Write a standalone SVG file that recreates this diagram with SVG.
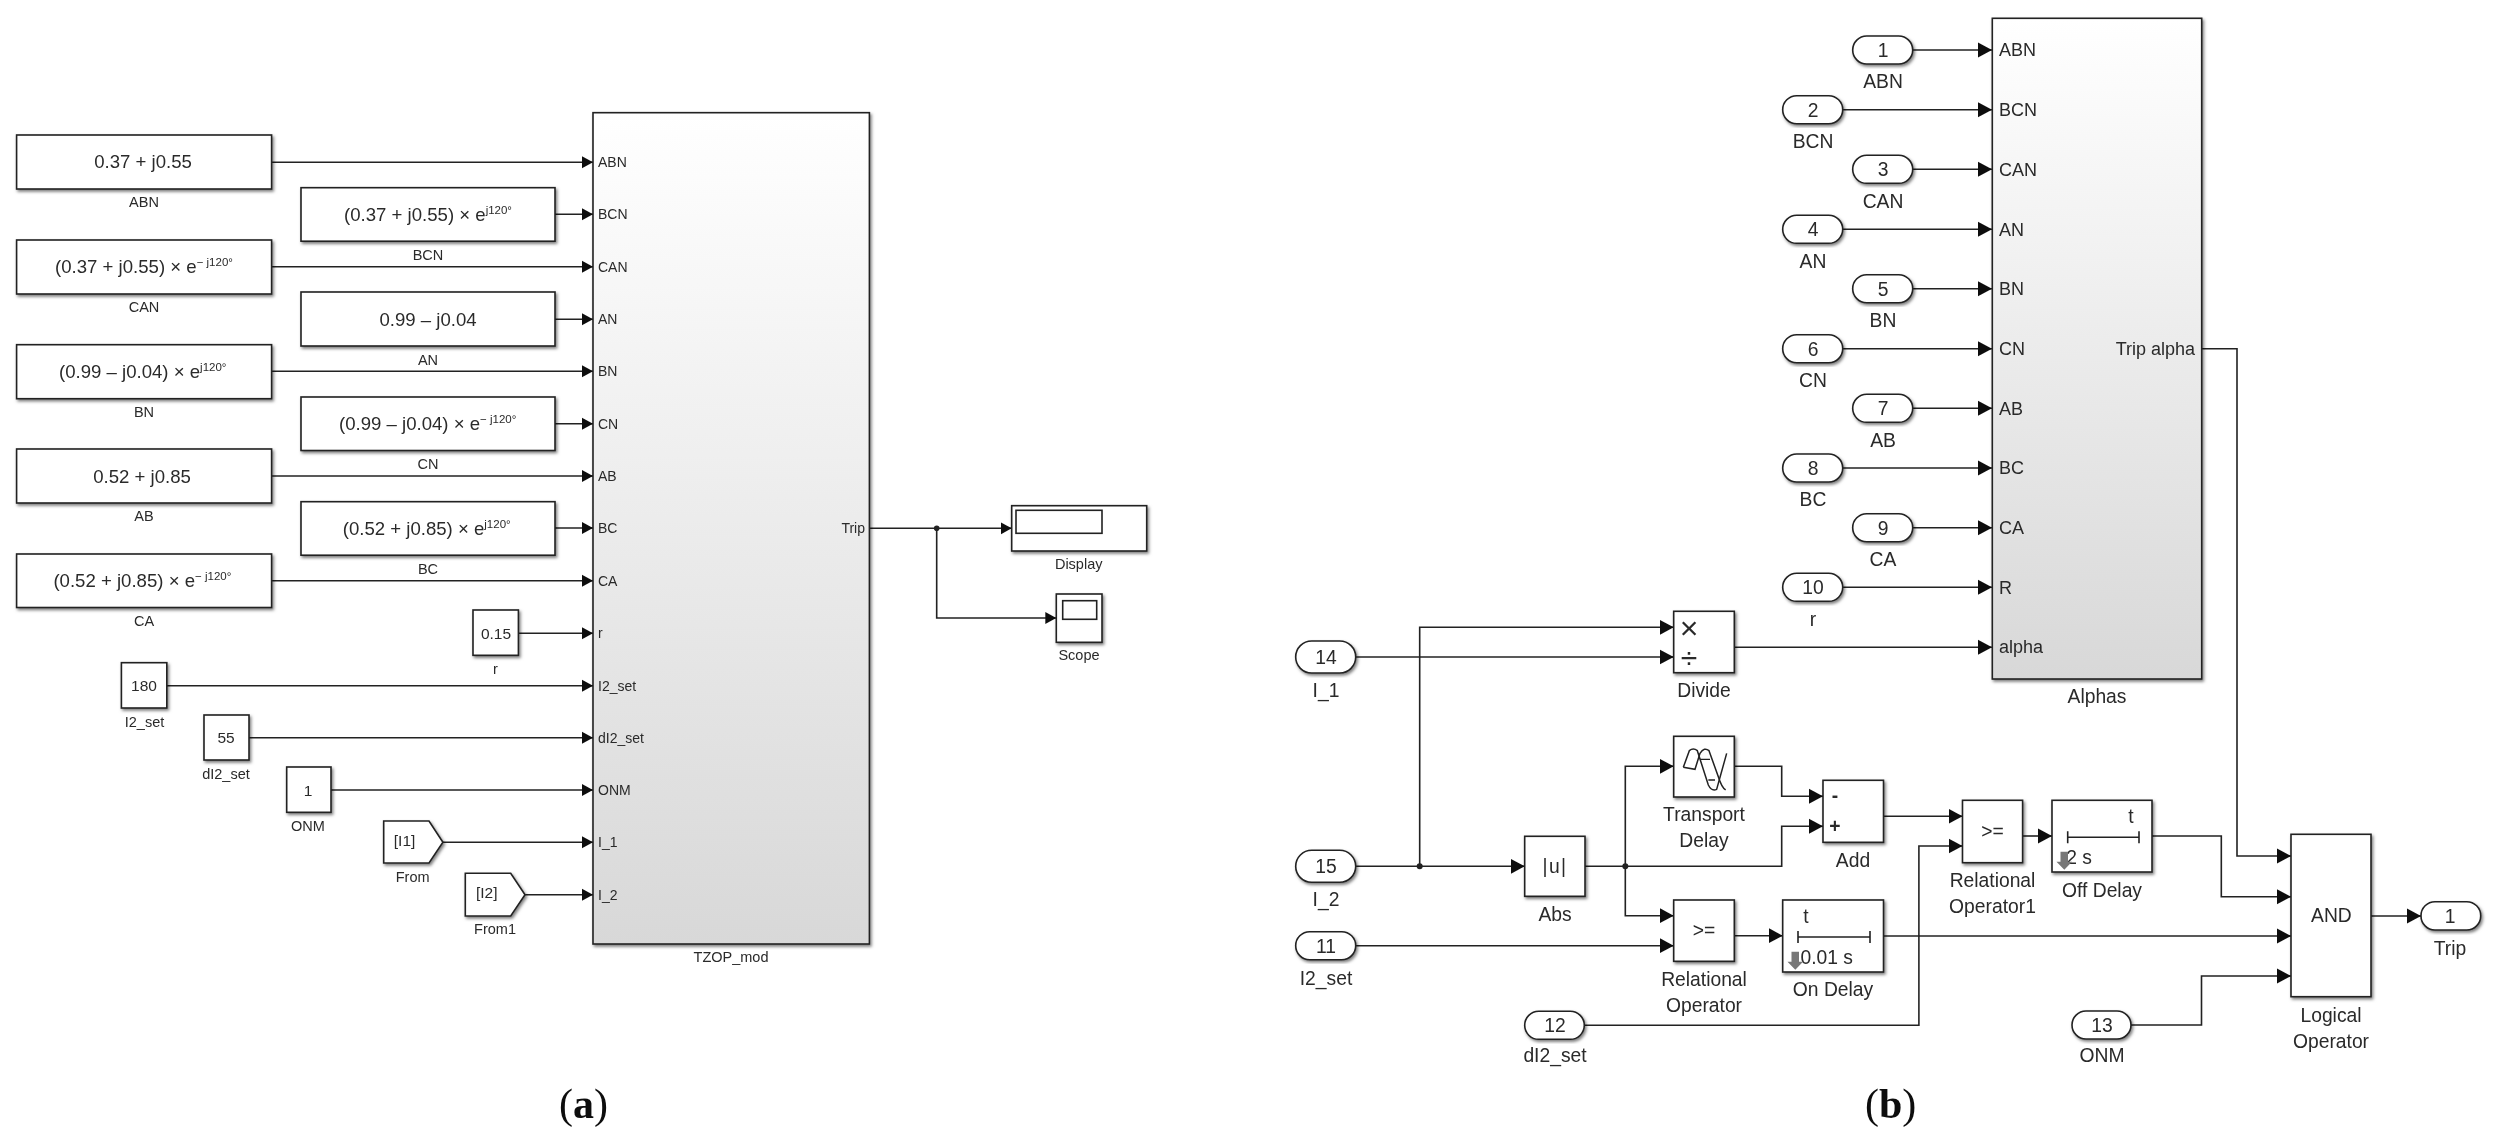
<svg xmlns="http://www.w3.org/2000/svg" width="2502" height="1144" viewBox="0 0 2502 1144">
<style>
text{font-family:"Liberation Sans",Arial,sans-serif;fill:#2a2a2a}
.b{fill:#fff;stroke:#222;stroke-width:1.6;filter:url(#sh)}
.big{stroke:#222;stroke-width:1.6;filter:url(#sh);fill:url(#gr)}
.w{fill:none;stroke:#222;stroke-width:1.6}
.a{marker-end:url(#ar)}
#connectors-b .a{marker-end:url(#ar2)}
.k{fill:#222;stroke:none}
.m{text-anchor:middle}
.v{font-size:18.6px}
.sup{font-size:11.5px}
.l{font-size:14.5px;text-anchor:middle}
.p{font-size:14px}
.c{font-size:15.5px;text-anchor:middle}
.n{font-size:19.3px;text-anchor:middle}
.q{font-size:18px}
.cap{font-family:"Liberation Serif","Times New Roman",serif;font-size:42px;fill:#111}
.ic{fill:none;stroke:#222;stroke-width:1.5}
</style>
<defs>
<linearGradient id="gr" x1="0" y1="0" x2="0" y2="1"><stop offset="0" stop-color="#fff"/><stop offset="1" stop-color="#d8d8d8"/></linearGradient>
<filter id="sh" x="-10%" y="-10%" width="125%" height="125%"><feDropShadow dx="1.5" dy="2" stdDeviation="1.4" flood-color="#000" flood-opacity="0.5"/></filter>
<filter id="soft" x="0" y="0" width="100%" height="100%" filterUnits="userSpaceOnUse"><feGaussianBlur stdDeviation="0.45"/></filter>
<marker id="ar" markerUnits="userSpaceOnUse" markerWidth="12" markerHeight="14" refX="11" refY="6.5" orient="auto"><path d="M0,0.5 L11,6.5 L0,12.5z" fill="#111"/></marker>
<marker id="ar2" markerUnits="userSpaceOnUse" markerWidth="15" markerHeight="16" refX="14" refY="8" orient="auto"><path d="M0,0.500 L14,8 L0,15.500z" fill="#111"/></marker>
</defs>
<rect width="2502" height="1144" fill="#fff"/>
<g filter="url(#soft)">
<g id="connectors-a" class="conn">
<path class="w a" d="M272,162.3H593"/><path class="w a" d="M555,214.3H593"/><path class="w a" d="M272,266.7H593"/><path class="w a" d="M555,319.3H593"/><path class="w a" d="M272,371.3H593"/><path class="w a" d="M555,423.7H593"/><path class="w a" d="M272,476H593"/><path class="w a" d="M555,528H593"/><path class="w a" d="M272,580.7H593"/>
<path class="w a" d="M518,633.3H593"/><path class="w a" d="M167,685.7H593"/><path class="w a" d="M249,737.7H593"/><path class="w a" d="M331,790H593"/><path class="w a" d="M443,842.3H593"/><path class="w a" d="M525,894.7H593"/>
<path class="w a" d="M870,528.3H1011.7"/><path class="w a" d="M936.7,528.3V618H1056.3"/><circle class="k" cx="936.7" cy="528.3" r="2.8"/>
</g>
<g id="abn-a"><rect class="b" x="16.6" y="135" width="255" height="54"/><text class="v m" x="143" y="168">0.37 + j0.55</text><text class="l" x="144" y="207">ABN</text></g>
<g id="can-a"><rect class="b" x="16.6" y="240" width="255" height="54"/><text class="v" x="55" y="273">(0.37 + j0.55) × e<tspan class="sup" dy="-7">− j120°</tspan></text><text class="l" x="144" y="312">CAN</text></g>
<g id="bn-a"><rect class="b" x="16.6" y="344.7" width="255" height="54"/><text class="v" x="59" y="377.5">(0.99 – j0.04) × e<tspan class="sup" dy="-7">j120°</tspan></text><text class="l" x="144" y="417">BN</text></g>
<g id="ab-a"><rect class="b" x="16.6" y="449" width="255" height="54"/><text class="v m" x="142" y="483">0.52 + j0.85</text><text class="l" x="144" y="521">AB</text></g>
<g id="ca-a"><rect class="b" x="16.6" y="554" width="255" height="53.5"/><text class="v" x="53.4" y="587">(0.52 + j0.85) × e<tspan class="sup" dy="-7">− j120°</tspan></text><text class="l" x="144" y="626">CA</text></g>
<g id="bcn-a"><rect class="b" x="301" y="187.7" width="254" height="53.5"/><text class="v" x="344" y="221">(0.37 + j0.55) × e<tspan class="sup" dy="-7">j120°</tspan></text><text class="l" x="428" y="260">BCN</text></g>
<g id="an-a"><rect class="b" x="301" y="292" width="254" height="54"/><text class="v m" x="428" y="326">0.99 – j0.04</text><text class="l" x="428" y="365">AN</text></g>
<g id="cn-a"><rect class="b" x="301" y="397" width="254" height="53.5"/><text class="v" x="339" y="430">(0.99 – j0.04) × e<tspan class="sup" dy="-7">− j120°</tspan></text><text class="l" x="428" y="469">CN</text></g>
<g id="bc-a"><rect class="b" x="301" y="501.7" width="254" height="53.5"/><text class="v" x="342.7" y="535">(0.52 + j0.85) × e<tspan class="sup" dy="-7">j120°</tspan></text><text class="l" x="428" y="574">BC</text></g>
<g id="r-a"><rect class="b" x="473" y="610" width="45.4" height="45.3"/><text class="c" x="496" y="638.5">0.15</text><text class="l" x="495.5" y="674">r</text></g>
<g id="i2set-a"><rect class="b" x="121.4" y="662.7" width="45.4" height="45.3"/><text class="c" x="144" y="690.5">180</text><text class="l" x="144.5" y="727">I2_set</text></g>
<g id="di2set-a"><rect class="b" x="204" y="715" width="45" height="45"/><text class="c" x="226" y="743">55</text><text class="l" x="226" y="779">dI2_set</text></g>
<g id="onm-a"><rect class="b" x="286.7" y="767" width="44.3" height="45.3"/><text class="c" x="308" y="795.5">1</text><text class="l" x="308" y="831">ONM</text></g>
<g id="from-a"><path class="b" d="M383.7,821H429L442.9,842.3L429,863H383.7z"/><text class="c" x="404.6" y="846">[I1]</text><text class="l" x="412.7" y="882">From</text></g>
<g id="from1-a"><path class="b" d="M465.3,873.3H510.7L525,894.7L510.7,916H465.3z"/><text class="c" x="486.7" y="898">[I2]</text><text class="l" x="495" y="934">From1</text></g>
<g id="tzop"><rect class="big" x="593" y="112.7" width="276.4" height="831.3"/>
<text class="p" x="598" y="167.3">ABN</text><text class="p" x="598" y="219.3">BCN</text><text class="p" x="598" y="271.7">CAN</text><text class="p" x="598" y="324.3">AN</text><text class="p" x="598" y="376.3">BN</text><text class="p" x="598" y="428.7">CN</text><text class="p" x="598" y="481">AB</text><text class="p" x="598" y="533">BC</text><text class="p" x="598" y="585.7">CA</text><text class="p" x="598" y="638.3">r</text><text class="p" x="598" y="690.7">I2_set</text><text class="p" x="598" y="742.7">dI2_set</text><text class="p" x="598" y="795">ONM</text><text class="p" x="598" y="847.3">I_1</text><text class="p" x="598" y="899.7">I_2</text>
<text class="p" x="865" y="533" text-anchor="end">Trip</text><text class="l" x="731" y="962">TZOP_mod</text></g>
<g id="display-a"><rect class="b" x="1011.7" y="505.7" width="135" height="45.3"/><rect class="w" x="1016" y="510.3" width="86" height="23"/><text class="l" x="1078.7" y="569">Display</text></g>
<g id="scope-a"><rect class="b" x="1056.3" y="594" width="45.7" height="48.3"/><rect class="w" x="1062.7" y="600.7" width="34" height="18.6"/><text class="l" x="1079" y="660">Scope</text></g>

<g id="connectors-b" class="conn">
<path class="w a" d="M1913,50H1992"/><path class="w a" d="M1843,109.7H1992"/><path class="w a" d="M1913,169.3H1992"/><path class="w a" d="M1843,229.3H1992"/><path class="w a" d="M1913,288.7H1992"/><path class="w a" d="M1843,348.7H1992"/><path class="w a" d="M1913,408.3H1992"/><path class="w a" d="M1843,468H1992"/><path class="w a" d="M1913,527.7H1992"/><path class="w a" d="M1843,587.3H1992"/>
<path class="w a" d="M1734.3,647.3H1992"/>
<path class="w a" d="M1355.7,657H1673.7"/>
<path class="w a" d="M1419.7,866.3V627.3H1673.7"/>
<path class="w a" d="M1355.7,866.3H1524.7"/><circle class="k" cx="1419.7" cy="866.3" r="3"/>
<path class="w a" d="M1585,866.3H1781.7V826.3H1823"/><circle class="k" cx="1625.3" cy="866.3" r="3"/>
<path class="w a" d="M1625.3,866.3V766.3H1673.7"/>
<path class="w a" d="M1625.3,866.3V915.7H1673.7"/>
<path class="w a" d="M1355.7,945.7H1673.7"/>
<path class="w a" d="M1734.3,766.3H1781.7V796.3H1823"/>
<path class="w a" d="M1734.3,935.7H1782.7"/>
<path class="w a" d="M1883.5,816.3H1962.5"/>
<path class="w a" d="M1584.3,1025.3H1918.9V846H1962.5"/>
<path class="w a" d="M2022.6,836H2052"/>
<path class="w a" d="M2202,348.7H2237V856H2291"/>
<path class="w a" d="M2152,836H2221.3V896.7H2291"/>
<path class="w a" d="M1883.5,936H2291"/>
<path class="w a" d="M2131,1025H2201.5V976H2291"/>
<path class="w a" d="M2371,916H2421"/>
</g>
<g id="alphas"><rect class="big" x="1992.3" y="18.3" width="209.4" height="660.7"/>
<text class="q" x="1999" y="56">ABN</text><text class="q" x="1999" y="116">BCN</text><text class="q" x="1999" y="175.5">CAN</text><text class="q" x="1999" y="235.5">AN</text><text class="q" x="1999" y="295">BN</text><text class="q" x="1999" y="355">CN</text><text class="q" x="1999" y="414.5">AB</text><text class="q" x="1999" y="474">BC</text><text class="q" x="1999" y="534">CA</text><text class="q" x="1999" y="593.5">R</text><text class="q" x="1999" y="653">alpha</text>
<text class="q" x="2195" y="355" text-anchor="end">Trip alpha</text><text class="n" x="2097" y="703">Alphas</text></g>
<g id="in1"><rect class="b" x="1852.7" y="36" width="60" height="28" rx="14"/><text class="n" x="1883" y="57">1</text><text class="n" x="1883" y="88">ABN</text></g>
<g id="in2"><rect class="b" x="1782.7" y="95.7" width="60" height="28" rx="14"/><text class="n" x="1813" y="116.7">2</text><text class="n" x="1813" y="148">BCN</text></g>
<g id="in3"><rect class="b" x="1852.7" y="155.3" width="60" height="28" rx="14"/><text class="n" x="1883" y="176.3">3</text><text class="n" x="1883" y="207.5">CAN</text></g>
<g id="in4"><rect class="b" x="1782.7" y="215.3" width="60" height="28" rx="14"/><text class="n" x="1813" y="236.3">4</text><text class="n" x="1813" y="267.5">AN</text></g>
<g id="in5"><rect class="b" x="1852.7" y="274.7" width="60" height="28" rx="14"/><text class="n" x="1883" y="295.7">5</text><text class="n" x="1883" y="327">BN</text></g>
<g id="in6"><rect class="b" x="1782.7" y="334.7" width="60" height="28" rx="14"/><text class="n" x="1813" y="355.7">6</text><text class="n" x="1813" y="387">CN</text></g>
<g id="in7"><rect class="b" x="1852.7" y="394.3" width="60" height="28" rx="14"/><text class="n" x="1883" y="415.3">7</text><text class="n" x="1883" y="447">AB</text></g>
<g id="in8"><rect class="b" x="1782.7" y="454" width="60" height="28" rx="14"/><text class="n" x="1813" y="475">8</text><text class="n" x="1813" y="506">BC</text></g>
<g id="in9"><rect class="b" x="1852.7" y="513.7" width="60" height="28" rx="14"/><text class="n" x="1883" y="534.7">9</text><text class="n" x="1883" y="566">CA</text></g>
<g id="in10"><rect class="b" x="1782.7" y="573.3" width="60" height="28" rx="14"/><text class="n" x="1813" y="594.3">10</text><text class="n" x="1813" y="626">r</text></g>
<g id="in14"><rect class="b" x="1295.7" y="641" width="60" height="32" rx="16"/><text class="n" x="1326" y="664">14</text><text class="n" x="1326" y="697">I_1</text></g>
<g id="in15"><rect class="b" x="1295.7" y="850.3" width="60" height="32" rx="16"/><text class="n" x="1326" y="873">15</text><text class="n" x="1326" y="906">I_2</text></g>
<g id="in11"><rect class="b" x="1295.7" y="931.7" width="60" height="28" rx="14"/><text class="n" x="1326" y="952.5">11</text><text class="n" x="1326" y="984.5">I2_set</text></g>
<g id="in12"><rect class="b" x="1524.7" y="1011.3" width="59.6" height="28" rx="14"/><text class="n" x="1555" y="1032">12</text><text class="n" x="1555" y="1062">dI2_set</text></g>
<g id="in13"><rect class="b" x="2072" y="1011" width="59" height="28" rx="14"/><text class="n" x="2102" y="1032">13</text><text class="n" x="2102" y="1062">ONM</text></g>
<g id="divide"><rect class="b" x="1673.7" y="611.3" width="60.6" height="61.4"/><text class="m" font-size="32" x="1689" y="639">×</text><text class="m" font-size="30" x="1689" y="668">÷</text><text class="n" x="1704" y="697">Divide</text></g>
<g id="abs"><rect class="b" x="1524.7" y="836.3" width="60.3" height="60"/><text class="n" x="1555" y="873" letter-spacing="1.5">|u|</text><text class="n" x="1555" y="921">Abs</text></g>
<g id="transport"><rect class="b" x="1673.7" y="736.3" width="60.6" height="60.7"/>
<g transform="translate(1665,730) scale(0.3333)"><path class="ic" style="stroke-width:4.5" d="M55,112 L73,62 Q85,52 97,62 L130,165 Q140,185 155,178 L185,70"/><path class="ic" style="stroke-width:4.5" d="M55,112 L90,118 L105,70 Q118,50 132,62 L160,140 Q170,172 182,180"/><path class="ic" style="stroke-width:4" d="M105,88H135M130,150H150"/></g>
<text class="n" x="1704" y="821">Transport</text><text class="n" x="1704" y="847">Delay</text></g>
<g id="relop"><rect class="b" x="1673.7" y="900" width="60.6" height="61.3"/><text class="n" x="1704" y="937">&gt;=</text><text class="n" x="1704" y="986">Relational</text><text class="n" x="1704" y="1012">Operator</text></g>
<g id="add"><rect class="b" x="1823" y="780.3" width="60.5" height="62"/><text class="n" x="1835" y="802" font-weight="bold">-</text><text class="n" x="1835" y="833" font-weight="bold">+</text><text class="n" x="1853" y="867">Add</text></g>
<g id="relop1"><rect class="b" x="1962.5" y="800.3" width="60.1" height="62.4"/><text class="n" x="1992.5" y="838">&gt;=</text><text class="n" x="1992.5" y="887">Relational</text><text class="n" x="1992.5" y="913">Operator1</text></g>
<g id="ondelay"><rect class="b" x="1782.7" y="900" width="100.8" height="72"/><text class="n" x="1806" y="923">t</text><path class="w" d="M1798,931V943M1798,937H1870M1870,931V943"/><text class="n" x="1826.700" y="964">0.01 s</text><path fill="#777" d="M1791.5,951.7h7.5v10h4l-7.700,8l-7.800,-8h4z"/><text class="n" x="1833" y="996">On Delay</text></g>
<g id="offdelay"><rect class="b" x="2052" y="800.3" width="100" height="71.7"/><text class="n" x="2131" y="823">t</text><path class="w" d="M2067.700,831.300V843.300M2067.700,837.300H2139M2139,831.300V843.300"/><text class="n" x="2079" y="864">2 s</text><path fill="#777" d="M2060.500,851.700h7.500v10h4l-7.700,8l-7.800,-8h4z"/><text class="n" x="2102" y="897">Off Delay</text></g>
<g id="logical"><rect class="b" x="2291" y="834.300" width="80" height="162.400"/><text class="n" x="2331.400" y="922">AND</text><text class="n" x="2331" y="1022">Logical</text><text class="n" x="2331" y="1048">Operator</text></g>
<g id="out1"><rect class="b" x="2421" y="901.700" width="59.700" height="28.300" rx="14"/><text class="n" x="2450" y="923">1</text><text class="n" x="2450" y="955">Trip</text></g>
<text class="cap" x="559" y="1118">(<tspan font-weight="bold">a</tspan>)</text>
<text class="cap" x="1865" y="1118">(<tspan font-weight="bold">b</tspan>)</text>
</g>
</svg>
